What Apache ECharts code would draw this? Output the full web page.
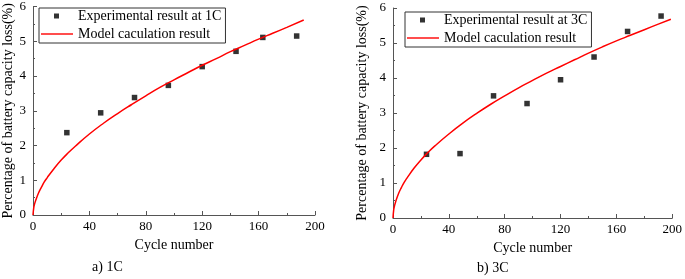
<!DOCTYPE html>
<html>
<head>
<meta charset="utf-8">
<script src="https://cdn.jsdelivr.net/npm/echarts@6/dist/echarts.min.js"></script>
<style>
  html, body { margin: 0; padding: 0; background: #fff; }
  #chart { width: 685px; height: 279px; }
</style>
</head>
<body>
<div id="chart"></div>
<script>
// 1C experiment
var cycles1C = [24, 48, 72, 96, 120, 144, 163, 187];
var loss1C = [2.37, 2.94, 3.38, 3.73, 4.27, 4.71, 5.11, 5.15];
// 1C model curve
var modelX1C = [0, 0.5, 1, 2, 4, 6, 8, 10, 15, 20, 25, 30, 40, 50, 60, 70, 80, 90, 100, 110, 120, 130, 140, 150, 160, 170, 180, 192];
var modelY1C = [0, 0.20, 0.30, 0.43, 0.64, 0.80, 0.95, 1.07, 1.34, 1.58, 1.79, 1.98, 2.33, 2.64, 2.92, 3.18, 3.43, 3.67, 3.89, 4.10, 4.31, 4.50, 4.70, 4.88, 5.06, 5.23, 5.40, 5.61];

// 3C experiment
var cycles3C = [24, 48, 72, 96, 120, 144, 168, 192];
var loss3C = [1.82, 1.84, 3.49, 3.27, 3.95, 4.60, 5.33, 5.77];
// 3C model curve
var modelX3C = [0, 0.5, 1, 2, 4, 6, 8, 10, 15, 20, 25, 30, 40, 50, 60, 70, 80, 90, 100, 110, 120, 130, 140, 150, 160, 170, 180, 190, 199];
var modelY3C = [0, 0.23, 0.33, 0.48, 0.70, 0.87, 1.02, 1.14, 1.42, 1.66, 1.87, 2.06, 2.40, 2.71, 2.99, 3.25, 3.49, 3.72, 3.93, 4.14, 4.33, 4.52, 4.71, 4.89, 5.06, 5.22, 5.38, 5.54, 5.68];

var xTicks = [0, 40, 80, 120, 160, 200];
var yTicks = [0, 1, 2, 3, 4, 5, 6];

var font = "'Liberation Serif', 'Times New Roman', serif";
var axisColor = '#555';
// legend icons: the first two moves only fix the 32x14 box
var sqIcon = 'path://M0,0M32,14M13,4.5h5v5h-5Z';
var lineIcon = 'path://M0,0M32,14M0,6.3h32v1.4h-32Z';

function pairs(xs, ys) {
    var out = [];
    for (var i = 0; i < xs.length; i++) out.push([xs[i], ys[i]]);
    return out;
}

function xAxisOf(idx) {
    return {
        type: 'value',
        gridIndex: idx,
        min: xTicks[0],
        max: xTicks[xTicks.length - 1],
        interval: xTicks[1] - xTicks[0],
        name: 'Cycle number',
        nameLocation: 'middle',
        nameGap: 23,
        nameTextStyle: { color: '#000', fontSize: 14, fontFamily: font },
        axisLine: { lineStyle: { color: axisColor, width: 1 } },
        axisTick: { inside: true, length: 4, lineStyle: { color: axisColor } },
        minorTick: { show: true, splitNumber: 2, length: 2, lineStyle: { color: axisColor } },
        axisLabel: { color: '#000', fontSize: 13, fontFamily: font, margin: 5 },
        splitLine: { show: false }
    };
}

function yAxisOf(idx, gap) {
    return {
        type: 'value',
        gridIndex: idx,
        min: yTicks[0],
        max: yTicks[yTicks.length - 1],
        interval: yTicks[1] - yTicks[0],
        name: 'Percentage of battery capacity loss(%)',
        nameLocation: 'middle',
        nameGap: gap,
        nameTextStyle: { color: '#000', fontSize: 14, fontFamily: font },
        axisLine: { show: true, lineStyle: { color: axisColor, width: 1 } },
        axisTick: { show: true, inside: true, length: 4, lineStyle: { color: axisColor } },
        minorTick: { show: true, splitNumber: 2, length: 2, lineStyle: { color: axisColor } },
        axisLabel: { color: '#000', fontSize: 13, fontFamily: font, margin: 7 },
        splitLine: { show: false }
    };
}

function legendOf(left, top, expName) {
    return {
        orient: 'vertical',
        left: left,
        top: top,
        padding: [1, 4, 2, 2],
        itemWidth: 32,
        itemHeight: 14,
        itemGap: 4,
        symbolKeepAspect: true,
        borderColor: '#333',
        borderWidth: 1,
        selectedMode: false,
        textStyle: { color: '#000', fontSize: 14, fontFamily: font },
        data: [
            { name: expName, icon: sqIcon },
            { name: 'Model caculation result', icon: lineIcon }
        ]
    };
}

var option = {
    animation: false,
    backgroundColor: '#fff',
    textStyle: { fontFamily: font },
    title: [
        { text: 'a) 1C', left: 92, top: 260, padding: 0,
          textStyle: { color: '#000', fontSize: 14, fontWeight: 'normal', fontFamily: font } },
        { text: 'b) 3C', left: 477, top: 261, padding: 0,
          textStyle: { color: '#000', fontSize: 14, fontWeight: 'normal', fontFamily: font } }
    ],
    legend: [
        legendOf(39, 8, 'Experimental result at 1C'),
        legendOf(405, 12, 'Experimental result at 3C')
    ],
    grid: [
        { left: 33, top: 5, width: 282, height: 210 },
        { left: 393, top: 8, width: 282, height: 210 }
    ],
    xAxis: [xAxisOf(0), xAxisOf(1)],
    yAxis: [yAxisOf(0, 18), yAxisOf(1, 24)],
    series: [
        {
            name: 'Model caculation result',
            type: 'line',
            xAxisIndex: 0, yAxisIndex: 0,
            data: pairs(modelX1C, modelY1C),
            smooth: true,
            showSymbol: false,
            symbol: 'none',
            lineStyle: { color: '#ff0000', width: 1.5 },
            itemStyle: { color: '#ff0000' }
        },
        {
            name: 'Experimental result at 1C',
            type: 'scatter',
            xAxisIndex: 0, yAxisIndex: 0,
            data: pairs(cycles1C, loss1C),
            symbol: 'rect',
            symbolSize: 5.5,
            itemStyle: { color: '#000' }
        },
        {
            name: 'Model caculation result',
            type: 'line',
            xAxisIndex: 1, yAxisIndex: 1,
            data: pairs(modelX3C, modelY3C),
            smooth: true,
            showSymbol: false,
            symbol: 'none',
            lineStyle: { color: '#ff0000', width: 1.5 },
            itemStyle: { color: '#ff0000' }
        },
        {
            name: 'Experimental result at 3C',
            type: 'scatter',
            xAxisIndex: 1, yAxisIndex: 1,
            data: pairs(cycles3C, loss3C),
            symbol: 'rect',
            symbolSize: 5.5,
            itemStyle: { color: '#000' }
        }
    ]
};

var chart = echarts.init(document.getElementById('chart'));
chart.setOption(option);
</script>
</body>
</html>
